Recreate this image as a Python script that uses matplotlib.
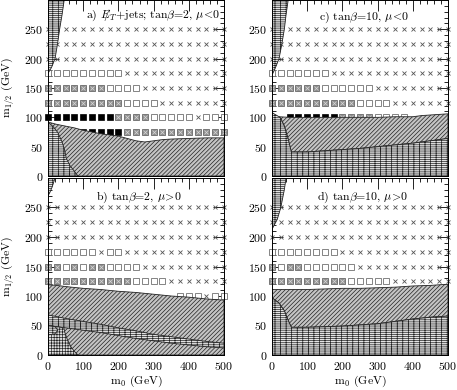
import matplotlib
matplotlib.use('Agg')
import matplotlib.pyplot as plt
from matplotlib.patches import Polygon
from matplotlib.ticker import MultipleLocator

plt.rcParams['font.family'] = ['cmr10', 'DejaVu Serif']
plt.rcParams['mathtext.fontset'] = 'cm'
plt.rcParams['axes.formatter.use_mathtext'] = True
plt.rcParams['hatch.linewidth'] = 0.5
plt.rcParams['axes.unicode_minus'] = False

# ---------------- data ----------------
m0_grid = [0, 25, 50, 75, 100, 125, 150, 175, 200, 225, 250,
           275, 300, 325, 350, 375, 400, 425, 450, 475, 500]
m12_rows = [250, 225, 200, 175, 150, 125, 100, 75]

# x = no signal, o = open square, g = grey square, b = black square, . = none
codes_a = ['xxxxxxxxxxxxxxxxxxxxx',
           'xxxxxxxxxxxxxxxxxxxxx',
           'xxxxxxxxxxxxxxxxxxxxx',
           'oooooooooxxxxxxxxxxxx',
           'gggggggooooxxxxxxxxxx',
           'gggggggggooooxxxxxxxx',
           'bbbbbbbbggggoooooxooo',
           '....bbbbbgggggggggggg']
codes_b = ['xxxxxxxxxxxxxxxxxxxxx',
           'xxxxxxxxxxxxxxxxxxxxx',
           'xxxxxxxxxxxxxxxxxxxxx',
           'ooooooxooxxxxxxxxxxxx',
           'ggogoggooooxxxxxxxxxx',
           'ggggggggggooooxxxxxxx',
           '...............oooxoo',
           '.....................']
codes_c = ['xxxxxxxxxxxxxxxxxxxxx',
           'xxxxxxxxxxxxxxxxxxxxx',
           'xxxxxxxxxxxxxxxxxxxxx',
           'oooooooxxxxxxxxxxxxxx',
           'ggggggooooooxxxxxxxxx',
           'ggggggggggooooxxxxxxx',
           '..bbbbbbggggoooo.....',
           '.....................']
codes_d = ['xxxxxxxxxxxxxxxxxxxxx',
           'xxxxxxxxxxxxxxxxxxxxx',
           'xxxxxxxxxxxxxxxxxxxxx',
           'ooooooooxxxxxxxxxxxxx',
           'goggooooooxxxxxxxxxxx',
           'gggggggggoooooxxxxxxx',
           '.....................',
           '.....................']

# region boundaries (m0, m1/2)
tl_brick_a = [(0, 300), (46, 300), (40, 275), (33, 250), (27, 225), (20, 200), (10, 185), (0, 175)]
tl_brick_b = [(0, 300), (20, 300), (12, 285), (5, 275), (0, 270)]
tl_brick_c = [(0, 300), (46, 300), (40, 275), (35, 250), (28, 225), (20, 200), (8, 182), (0, 172)]
tl_brick_d = [(0, 300), (40, 300), (35, 280), (25, 250), (15, 230), (8, 222), (0, 213)]

hatch_a = [(0, 92), (25, 88), (50, 85), (75, 82), (100, 78), (125, 75), (150, 72), (175, 70),
           (200, 68), (225, 64), (250, 60), (275, 58), (300, 60), (325, 62), (350, 63),
           (400, 64), (450, 65), (500, 65), (500, 0), (0, 0)]
brick_a = [(0, 92), (15, 84), (28, 74), (40, 58), (47, 45), (52, 30), (62, 18), (75, 8),
           (85, 0), (0, 0)]

hatch_b = [(0, 119), (25, 118), (50, 116), (100, 113), (150, 111), (200, 108), (250, 106),
           (300, 103), (350, 100), (400, 98), (450, 95), (500, 93), (500, 0), (0, 0)]
band_b = [(0, 68), (50, 62), (100, 57), (150, 52), (200, 46), (250, 41), (300, 35), (350, 31),
          (400, 27), (450, 23), (500, 20), (500, 12), (450, 14), (400, 17), (350, 20),
          (300, 24), (250, 28), (200, 33), (150, 38), (100, 42), (50, 46), (0, 50)]
dots_b = [(0, 50), (25, 48), (45, 46), (48, 38), (55, 26), (65, 14), (75, 6), (85, 0), (0, 0)]
brick_b = [(0, 50), (20, 48), (28, 42), (20, 36), (0, 34)]

hatch_c = [(20, 101), (50, 100), (100, 100), (150, 100), (200, 100), (250, 100), (300, 100),
           (350, 101), (400, 101), (425, 103), (450, 104), (500, 106), (500, 64), (450, 60),
           (400, 56), (350, 53), (300, 50), (250, 47), (200, 45), (150, 43), (100, 41),
           (55, 41), (45, 65), (35, 85), (25, 98)]
brick_c = [(0, 0), (500, 0), (500, 64), (450, 60), (400, 56), (350, 53), (300, 50), (250, 47),
           (200, 45), (150, 43), (100, 41), (55, 41), (45, 65), (35, 85), (25, 98), (20, 101),
           (0, 108)]

hatch_d = [(0, 111), (50, 111), (100, 111), (150, 112), (200, 113), (250, 113), (300, 114),
           (350, 115), (400, 117), (450, 118), (500, 120), (500, 66), (450, 64), (400, 61),
           (350, 57), (300, 53), (250, 51), (200, 49), (150, 48), (100, 47), (55, 47),
           (45, 60), (35, 75), (20, 88), (0, 97)]
brick_d = [(0, 0), (500, 0), (500, 66), (450, 64), (400, 61), (350, 57), (300, 53), (250, 51),
           (200, 49), (150, 48), (100, 47), (55, 47), (45, 60), (35, 75), (20, 88), (0, 97)]

labels = [r'a) $E\!\!\!/_T$+jets; tan$\beta$=2, $\mu\!<\!0$',
          r'b) tan$\beta$=2, $\mu\!>\!0$',
          r'c) tan$\beta$=10, $\mu\!<\!0$',
          r'd) tan$\beta$=10, $\mu\!>\!0$']
label_pos = [(298, 274), (259, 268), (262, 269), (259, 267)]
xticks = [0, 100, 200, 300, 400, 500]
yticks = [0, 50, 100, 150, 200, 250]

# ---------------- figure ----------------
fig = plt.figure(figsize=(4.57, 3.90), dpi=100)
W, H = 457.0, 390.0
boxes = [(48, 0, 176, 176), (48, 178, 176, 177), (272, 0, 176, 176), (272, 178, 176, 177)]
axes = []
for (x, y, w, h) in boxes:
    axes.append(fig.add_axes([x / W, 1 - (y + h) / H, w / W, h / H]))

BRICK = ('--------|||', '#e4e4e4')
DIAG = ('////////', '#c4c4c4')
DOTS = ('++++++', '#e0e0e0')


def region(ax, pts, style, z=3):
    hatch, face = style
    p = Polygon(pts, closed=True, facecolor=face, edgecolor='#222222',
                hatch=hatch, linewidth=0.6, zorder=z)
    ax.add_patch(p)


def markers(ax, codes):
    for m12, row in zip(m12_rows, codes):
        for m0, c in zip(m0_grid, row):
            if c == 'x':
                ax.plot(m0, m12, marker='x', ms=3.0, mew=0.6, color='#555555',
                        ls='none', zorder=2, clip_on=False)
            elif c == 'o':
                ax.plot(m0, m12, marker='s', ms=4.9, mew=0.6, mfc='white',
                        mec='#707070', ls='none', zorder=2, clip_on=False)
            elif c == 'g':
                ax.plot(m0, m12, marker='s', ms=4.9, mew=0.6, mfc='#8f8f8f',
                        mec='#6a6a6a', ls='none', zorder=2, clip_on=False)
                ax.plot(m0, m12, marker='x', ms=2.4, mew=0.5, color='#d8d8d8',
                        ls='none', zorder=2, clip_on=False)
            elif c == 'b':
                ax.plot(m0, m12, marker='s', ms=4.9, mew=0.5, mfc='black',
                        mec='black', ls='none', zorder=2, clip_on=False)


all_codes = [codes_a, codes_b, codes_c, codes_d]
for i, ax in enumerate(axes):
    ax.set_xlim(0, 500)
    ax.set_ylim(0, 300)
    markers(ax, all_codes[i])

region(axes[0], hatch_a, DIAG)
region(axes[0], brick_a, BRICK, 4)
region(axes[0], tl_brick_a, BRICK)

region(axes[1], hatch_b, DIAG)
region(axes[1], band_b, BRICK, 4)
region(axes[1], dots_b, DOTS, 4)
region(axes[1], brick_b, BRICK, 5)
region(axes[1], tl_brick_b, BRICK)

region(axes[2], hatch_c, DIAG)
region(axes[2], brick_c, BRICK)
region(axes[2], tl_brick_c, BRICK)

region(axes[3], hatch_d, DIAG)
region(axes[3], brick_d, BRICK)
region(axes[3], tl_brick_d, BRICK)

for i, ax in enumerate(axes):
    ax.set_xticks(xticks)
    ax.set_yticks(yticks)
    ax.xaxis.set_minor_locator(MultipleLocator(20))
    ax.yaxis.set_minor_locator(MultipleLocator(10))
    ax.tick_params(which='both', direction='in', top=True, right=True,
                   labelsize=8.5, width=0.6)
    ax.tick_params(which='major', length=8, pad=3.5)
    ax.tick_params(which='minor', length=3)
    ax.tick_params(axis='x', pad=3.5)
    if i in (0, 2):
        ax.set_xticklabels([])
    for s in ax.spines.values():
        s.set_linewidth(0.7)
        s.set_zorder(10)
    ax.text(label_pos[i][0], label_pos[i][1], labels[i], ha='center', va='center',
            fontsize=8.5, zorder=6)

for i in (0, 1):
    axes[i].set_ylabel(r'm$_{1/2}$ (GeV)', fontsize=8.5, labelpad=6)
for i in (1, 3):
    axes[i].set_xlabel(r'm$_0$ (GeV)', fontsize=8.5, labelpad=1)

fig.savefig('out.png', dpi=100)
